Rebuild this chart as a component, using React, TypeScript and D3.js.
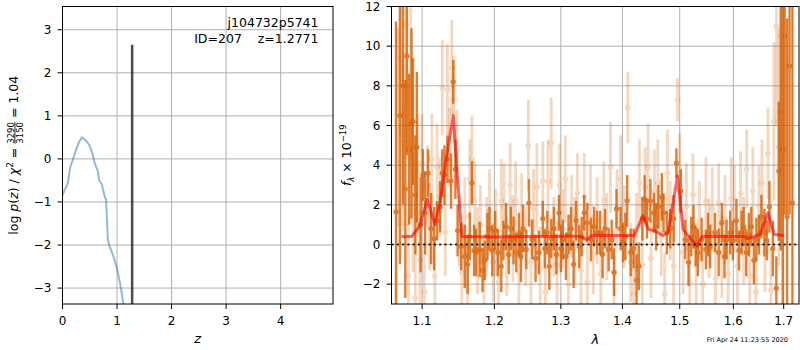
import * as d3 from 'd3';
import React from 'react';

// left panel: log p(z)
const pzGrid = [0.0, 0.04, 0.08, 0.1, 0.14, 0.2, 0.26, 0.3, 0.355, 0.4, 0.46, 0.5, 0.55, 0.58, 0.62, 0.65, 0.67, 0.72, 0.74, 0.78, 0.8, 0.83, 0.86, 0.9, 0.95, 1.0, 1.05, 1.09, 1.12];
const pzLog = [-0.85, -0.72, -0.62, -0.55, -0.2, 0.02, 0.25, 0.38, 0.5, 0.46, 0.38, 0.3, 0.12, -0.05, -0.2, -0.28, -0.5, -0.58, -0.7, -0.9, -0.95, -1.85, -2.02, -2.15, -2.32, -2.55, -2.85, -3.15, -3.4];
const zBest = 1.2771;
const zBestTop = 2.65;

// right panel: spectrum [wavelength, flux, err]
const specDark = [
  [1.066, 1.65, 9.6], [1.071, 6.5, 7.5], [1.075, 8.0, 6.0], [1.078, 2.8, 5.5], [1.08, 9.5, 5.0],
  [1.083, 4.8, 3.8], [1.086, 6.1, 4.8], [1.088, 6.2, 3.2], [1.091, 2.5, 3.0], [1.093, 4.9, 3.8],
  [1.098, 1.0, 2.4], [1.101, 3.5, 1.3], [1.104, 1.6, 2.1], [1.108, 3.6, 1.2], [1.112, 0.8, 1.8],
  [1.116, 0.3, 1.6], [1.12, 1.2, 1.0], [1.124, 1.9, 1.3], [1.127, 3.6, 1.2], [1.13, 3.5, 1.5],
  [1.134, 4.3, 1.2], [1.139, 3.2, 1.4], [1.142, 8.2, 1.1], [1.145, 3.8, 1.5], [1.148, 0.7, 1.3],
  [1.153, -0.1, 1.2], [1.158, -0.6, 1.6], [1.162, -1.0, 1.5], [1.165, 0.4, 1.2], [1.168, 3.1, 1.1],
  [1.171, -0.3, 1.3], [1.174, -0.4, 1.2], [1.179, -0.25, 1.4], [1.183, -1.3, 1.1], [1.186, -0.8, 1.0],
  [1.19, 0.4, 1.2], [1.193, 0.8, 1.1], [1.197, -0.3, 1.3], [1.201, 0.7, 1.0], [1.205, -0.4, 1.2],
  [1.21, -1.1, 1.3], [1.213, 0.2, 1.0], [1.217, 0.9, 1.2], [1.221, -0.5, 1.0], [1.224, 0.8, 1.1],
  [1.228, 0.2, 1.2], [1.232, -0.4, 1.0], [1.236, 0.5, 1.1], [1.239, -0.6, 1.3], [1.242, 0.8, 1.2],
  [1.247, -0.25, 1.0], [1.251, 2.1, 1.2], [1.256, 0.25, 1.0], [1.261, -0.7, 1.2], [1.266, -0.4, 1.1],
  [1.272, 1.3, 0.9], [1.275, -0.2, 1.0], [1.279, 0.6, 1.1], [1.282, -1.1, 1.2], [1.285, 0.3, 1.0],
  [1.289, 0.8, 1.1], [1.293, -0.5, 1.0], [1.297, 1.6, 0.9], [1.3, -0.2, 1.2], [1.303, 0.25, 1.0],
  [1.308, -0.6, 1.2], [1.312, 0.5, 1.0], [1.316, 0.8, 1.1], [1.32, -1.0, 1.2], [1.324, 1.2, 1.0],
  [1.329, -0.1, 1.1], [1.333, 0.4, 1.0], [1.337, 1.6, 0.9], [1.342, 1.1, 1.0], [1.348, 0.25, 1.1],
  [1.353, 0.9, 1.0], [1.358, 0.6, 1.1], [1.363, 0.6, 1.1], [1.367, -0.5, 1.2], [1.371, 0.8, 1.0],
  [1.377, -0.25, 1.1], [1.382, 0.25, 1.0], [1.386, -1.4, 1.2], [1.39, 1.8, 1.0], [1.397, 0.8, 1.1],
  [1.401, 0.1, 1.0], [1.405, 0.4, 1.2], [1.408, 2.2, 1.3], [1.414, -0.4, 1.2], [1.419, -0.2, 1.0],
  [1.424, -1.8, 1.3], [1.428, -1.1, 1.2], [1.434, 1.3, 1.1], [1.438, 2.3, 1.2], [1.442, 1.3, 1.0],
  [1.448, 2.2, 1.1], [1.454, 1.6, 1.0], [1.458, 0.9, 1.2], [1.462, 1.9, 1.1], [1.468, 2.4, 1.2],
  [1.471, 1.6, 1.0], [1.477, 0.6, 1.1], [1.483, 0.8, 1.0], [1.489, 1.3, 1.2], [1.494, 4.1, 0.75],
  [1.502, 2.7, 1.1], [1.51, 0.25, 1.0], [1.516, -0.9, 1.2], [1.521, 0.4, 1.0], [1.525, 0.9, 1.1],
  [1.529, -0.1, 1.0], [1.533, -0.4, 1.2], [1.54, 0.25, 1.1], [1.548, -0.25, 1.0], [1.552, 0.5, 1.1],
  [1.556, -0.1, 1.1], [1.565, 0.6, 1.0], [1.572, -0.4, 1.2], [1.578, 1.1, 1.0], [1.583, -0.6, 1.1],
  [1.587, 0.25, 1.0], [1.594, 0.6, 1.1], [1.599, 0.2, 1.0], [1.606, 1.2, 1.1], [1.611, -0.3, 1.0],
  [1.616, 0.6, 1.1], [1.62, 0.9, 1.0], [1.625, -0.4, 1.2], [1.63, 0.5, 1.1], [1.635, 0.9, 1.0],
  [1.64, -0.8, 1.2], [1.645, 0.25, 1.1], [1.65, 0.5, 1.0], [1.655, 1.4, 1.1], [1.661, 0.6, 1.2],
  [1.666, 0.2, 1.0], [1.671, 1.9, 1.3], [1.678, -0.2, 1.4], [1.685, -2.2, 1.6], [1.69, 3.7, 3.5],
  [1.694, 6.7, 7.0], [1.698, 4.8, 9.0], [1.702, 10.5, 9.0], [1.707, 1.4, 10.0], [1.712, 9.0, 7.5],
  [1.718, 2.1, 10.0],
];

const specLight = [
  [1.068, 5.9, 5.0], [1.072, 9.4, 4.0], [1.075, 5.2, 4.5], [1.079, 11.1, 4.0], [1.082, -1.6, 3.0],
  [1.085, 8.5, 4.5], [1.088, 1.6, 3.0], [1.091, -2.7, 3.5], [1.094, 3.6, 3.0], [1.097, -0.8, 2.5],
  [1.1, 4.1, 2.5], [1.103, -2.4, 2.5], [1.107, 3.0, 2.0], [1.11, 0.9, 2.2], [1.113, 4.3, 2.3],
  [1.117, -1.6, 2.0], [1.12, 3.9, 2.2], [1.124, 2.4, 2.0], [1.127, 7.9, 2.4], [1.131, 0.6, 2.2],
  [1.134, 7.8, 2.3], [1.137, 4.9, 2.0], [1.14, 8.9, 2.4], [1.143, 7.3, 2.2], [1.147, 4.8, 2.0],
  [1.15, 0.7, 1.8], [1.154, -1.4, 2.2], [1.158, 1.4, 2.0], [1.162, -2.3, 2.4], [1.165, 3.3, 2.0],
  [1.168, 4.3, 2.2], [1.172, 2.2, 2.0], [1.176, -0.3, 2.2], [1.18, 1.0, 2.0], [1.185, -1.6, 2.2],
  [1.189, 0.4, 2.0], [1.193, 1.7, 2.1], [1.198, -0.9, 2.0], [1.202, 0.6, 2.2], [1.206, -1.9, 2.0],
  [1.21, 2.2, 2.1], [1.214, 1.9, 2.2], [1.218, -0.6, 2.0], [1.223, 3.0, 2.1], [1.227, 0.3, 2.2],
  [1.231, 2.2, 2.0], [1.236, -1.4, 2.1], [1.24, 1.4, 2.2], [1.246, -0.1, 2.0], [1.25, 5.0, 2.3],
  [1.254, -0.9, 2.2], [1.258, 1.8, 2.0], [1.263, 2.9, 2.2], [1.268, -1.2, 2.1], [1.272, 3.2, 2.0],
  [1.276, -2.4, 2.2], [1.28, 3.2, 2.1], [1.285, 5.1, 2.3], [1.289, 0.4, 2.0], [1.294, -1.0, 2.2],
  [1.298, 3.0, 2.1], [1.303, 0.8, 2.0], [1.307, 3.3, 2.2], [1.312, -2.0, 2.0], [1.317, 1.4, 2.1],
  [1.322, 0.2, 2.2], [1.326, 2.6, 2.0], [1.332, -1.3, 2.1], [1.337, 2.4, 2.2], [1.342, -1.9, 2.0],
  [1.347, 1.9, 2.1], [1.352, -0.5, 2.0], [1.358, 1.2, 2.2], [1.364, -1.5, 2.1], [1.369, 2.2, 2.0],
  [1.374, 0.4, 2.2], [1.38, 3.9, 2.3], [1.386, -1.4, 2.1], [1.391, 1.8, 2.0], [1.397, 3.3, 2.2],
  [1.403, 0.9, 2.1], [1.409, 6.9, 1.8], [1.414, -0.9, 2.0], [1.419, -2.5, 2.2], [1.424, 0.6, 2.0],
  [1.429, 3.1, 2.2], [1.434, -1.0, 2.1], [1.439, 2.9, 2.0], [1.444, 3.9, 2.2], [1.449, -0.7, 2.0],
  [1.455, 2.7, 2.1], [1.461, 3.1, 2.2], [1.467, 0.4, 2.0], [1.473, -2.5, 2.1], [1.478, 3.6, 2.2],
  [1.483, 1.2, 2.0], [1.489, -1.1, 2.1], [1.496, 7.3, 1.1], [1.5, 3.6, 2.0], [1.506, -0.4, 2.1],
  [1.512, 1.9, 2.2], [1.518, -1.9, 2.0], [1.524, 2.5, 2.1], [1.53, -1.1, 2.2], [1.536, 1.2, 2.0],
  [1.542, -2.0, 2.1], [1.548, 2.2, 2.2], [1.554, 0.3, 2.0], [1.56, 1.8, 2.1], [1.566, -1.7, 2.2],
  [1.572, 2.1, 2.0], [1.578, -0.6, 2.1], [1.584, 1.3, 2.2], [1.59, -1.5, 2.0], [1.596, 2.3, 2.1],
  [1.602, 1.8, 2.2], [1.608, -1.1, 2.0], [1.614, 2.6, 2.1], [1.62, 0.2, 2.2], [1.626, 3.8, 2.0],
  [1.632, -1.6, 2.1], [1.638, 2.7, 2.2], [1.644, -2.4, 2.0], [1.65, 1.9, 2.1], [1.656, 3.1, 2.2],
  [1.662, -0.4, 2.0], [1.668, 4.6, 2.3], [1.674, -2.3, 2.1], [1.68, 6.2, 4.0], [1.685, 11.0, 5.0],
  [1.69, 4.9, 6.0], [1.695, 10.5, 7.0],
];

// best-fit line model
const modelWave = [1.073, 1.086, 1.097, 1.107, 1.117, 1.124, 1.133, 1.142, 1.148, 1.154, 1.2, 1.3, 1.33, 1.341, 1.35, 1.42, 1.435, 1.445, 1.455, 1.47, 1.479, 1.496, 1.506, 1.518, 1.532, 1.541, 1.621, 1.627, 1.652, 1.668, 1.681, 1.701];
const modelFlux = [0.4, 0.4, 0.93, 2.28, 1.0, 2.1, 4.47, 6.5, 3.3, 0.4, 0.38, 0.42, 0.42, 0.25, 0.45, 0.45, 1.45, 0.76, 0.7, 0.45, 0.6, 3.45, 0.76, 0.35, -0.08, 0.42, 0.4, 0.3, 0.5, 1.6, 0.5, 0.45];

const zTicks = [0, 1, 2, 3, 4];
const logTicks = [-3, -2, -1, 0, 1, 2, 3];
const waveTicks = [1.1, 1.2, 1.3, 1.4, 1.5, 1.6, 1.7];
const fluxTicks = [-2, 0, 2, 4, 6, 8, 10, 12];

const orange = '#d95f02';
const gridColor = '#b0b0b0';
const font = 'DejaVu Sans';

const L = {x0: 62.5, x1: 333, y0: 6.5, y1: 304};
const R = {x0: 391.5, x1: 799, y0: 6.5, y1: 304};

const zScale = d3.scaleLinear().domain([0, 4.96]).range([L.x0, L.x1]);
const pScale = d3.scaleLinear().domain([-3.37, 3.54]).range([L.y1, L.y0]);
const wScale = d3.scaleLog().domain([1.0602, 1.7316]).range([R.x0, R.x1]);
const fScale = d3.scaleLinear().domain([-3, 12]).range([R.y1, R.y0]);

const fmt = d3.format('d');

function ErrorBars({data, opacity, width, r}) {
  return (
    <g>
      {data.map(([w, f, e], i) => (
        <g key={i} opacity={opacity}>
          <line x1={wScale(w)} x2={wScale(w)} y1={fScale(f - e)} y2={fScale(f + e)}
            stroke={orange} strokeWidth={width} />
          <circle cx={wScale(w)} cy={fScale(f)} r={r} fill={orange} />
        </g>
      ))}
    </g>
  );
}

export default function App() {
  const pzLine = d3.line()
    .x((d, i) => zScale(pzGrid[i]))
    .y(d => pScale(d));
  const modelLine = d3.line()
    .x((d, i) => wScale(modelWave[i]))
    .y(d => fScale(d));

  return (
    <svg width={800} height={350} style={{position: 'absolute', left: 0, top: 0}}
      fontFamily={font}>
      <defs>
        <clipPath id="clipL"><rect x={L.x0} y={L.y0} width={L.x1 - L.x0} height={L.y1 - L.y0} /></clipPath>
        <clipPath id="clipR"><rect x={R.x0} y={R.y0} width={R.x1 - R.x0} height={R.y1 - R.y0} /></clipPath>
      </defs>
      <rect width={800} height={350} fill="#fff" />

      {/* ---- left panel ---- */}
      <g stroke={gridColor} strokeWidth={1}>
        {zTicks.map(t => <line key={t} x1={zScale(t)} x2={zScale(t)} y1={L.y0} y2={L.y1} />)}
        {logTicks.map(t => <line key={t} x1={L.x0} x2={L.x1} y1={pScale(t)} y2={pScale(t)} />)}
      </g>
      <g clipPath="url(#clipL)">
        <path d={pzLine(pzLog)} fill="none" stroke="#1f77b4" strokeOpacity={0.5} strokeWidth={2} />
        <line x1={zScale(zBest)} x2={zScale(zBest)} y1={L.y1} y2={pScale(zBestTop)}
          stroke="#000" strokeOpacity={0.7} strokeWidth={2.5} />
      </g>
      <rect x={L.x0} y={L.y0} width={L.x1 - L.x0} height={L.y1 - L.y0} fill="none" stroke="#000" />
      <g fontSize={12}>
        {zTicks.map(t => (
          <g key={t}>
            <line x1={zScale(t)} x2={zScale(t)} y1={L.y1} y2={L.y1 + 5} stroke="#000" />
            <text x={zScale(t)} y={325} textAnchor="middle">{fmt(t)}</text>
          </g>
        ))}
        {logTicks.map(t => (
          <g key={t}>
            <line x1={L.x0 - 5} x2={L.x0} y1={pScale(t)} y2={pScale(t)} stroke="#000" />
            <text x={L.x0 - 11} y={pScale(t)} dy="0.36em" textAnchor="end">{fmt(t)}</text>
          </g>
        ))}
      </g>
      <text x={(L.x0 + L.x1) / 2} y={343} textAnchor="middle" fontSize={13} fontStyle="italic">z</text>
      <text transform={`translate(18,${(L.y0 + L.y1) / 2}) rotate(-90)`} textAnchor="middle" fontSize={12.5}>
        <tspan>{'log '}</tspan>
        <tspan fontStyle="italic">p</tspan>
        <tspan>(</tspan>
        <tspan fontStyle="italic">z</tspan>
        <tspan>{') / '}</tspan>
        <tspan fontStyle="italic">χ</tspan>
        <tspan dy={-5} fontSize={9}>2</tspan>
        <tspan dy={5}>{' = '}</tspan>
        <tspan dy={-4.5} fontSize={8.5}>3290</tspan>
        <tspan dx={-21.6} dy={9} fontSize={8.5} textDecoration="overline">3150</tspan>
        <tspan dy={-4.5}>{' = 1.04'}</tspan>
      </text>
      <g fontSize={12.5} textAnchor="end">
        <text x={318.5} y={27}>j104732p5741</text>
        <text x={318.5} y={42.5}>{'ID=207\u00a0\u00a0\u00a0\u00a0z=1.2771'}</text>
      </g>

      {/* ---- right panel ---- */}
      <g stroke={gridColor} strokeWidth={1}>
        {waveTicks.map(t => <line key={t} x1={wScale(t)} x2={wScale(t)} y1={R.y0} y2={R.y1} />)}
        {fluxTicks.map(t => <line key={t} x1={R.x0} x2={R.x1} y1={fScale(t)} y2={fScale(t)} />)}
      </g>
      <g clipPath="url(#clipR)">
        <ErrorBars data={specLight} opacity={0.25} width={2.8} r={2.8} />
        <ErrorBars data={specDark} opacity={0.8} width={2.4} r={2.6} />
        <path d={modelLine(modelFlux)} fill="none" stroke="#ff0000" strokeOpacity={0.6}
          strokeWidth={3} strokeLinejoin="round" />
        <line x1={R.x0} x2={R.x1} y1={fScale(0)} y2={fScale(0)} stroke="#000"
          strokeOpacity={0.85} strokeWidth={2} strokeDasharray="2,3.3" />
      </g>
      <rect x={R.x0} y={R.y0} width={R.x1 - R.x0} height={R.y1 - R.y0} fill="none" stroke="#000" />
      <g fontSize={12}>
        {waveTicks.map(t => (
          <g key={t}>
            <line x1={wScale(t)} x2={wScale(t)} y1={R.y1} y2={R.y1 + 5} stroke="#000" />
            <text x={wScale(t)} y={325} textAnchor="middle">{d3.format('.1f')(t)}</text>
          </g>
        ))}
        {fluxTicks.map(t => (
          <g key={t}>
            <line x1={R.x0 - 5} x2={R.x0} y1={fScale(t)} y2={fScale(t)} stroke="#000" />
            <text x={R.x0 - 11} y={fScale(t)} dy="0.36em" textAnchor="end">{fmt(t)}</text>
          </g>
        ))}
      </g>
      <text x={(R.x0 + R.x1) / 2} y={344} textAnchor="middle" fontSize={13} fontStyle="italic">λ</text>
      <text transform={`translate(351,${(R.y0 + R.y1) / 2}) rotate(-90)`} textAnchor="middle" fontSize={12.5}>
        <tspan fontStyle="italic">f</tspan>
        <tspan fontSize={8.5} dy={3} fontStyle="italic">λ</tspan>
        <tspan dy={-3}>{' × 10'}</tspan>
        <tspan fontSize={8.5} dy={-5}>−19</tspan>
      </text>
      <text x={788} y={341.5} textAnchor="end" fontSize={6.5}>Fri Apr 24 11:23:55 2020</text>
    </svg>
  );
}
